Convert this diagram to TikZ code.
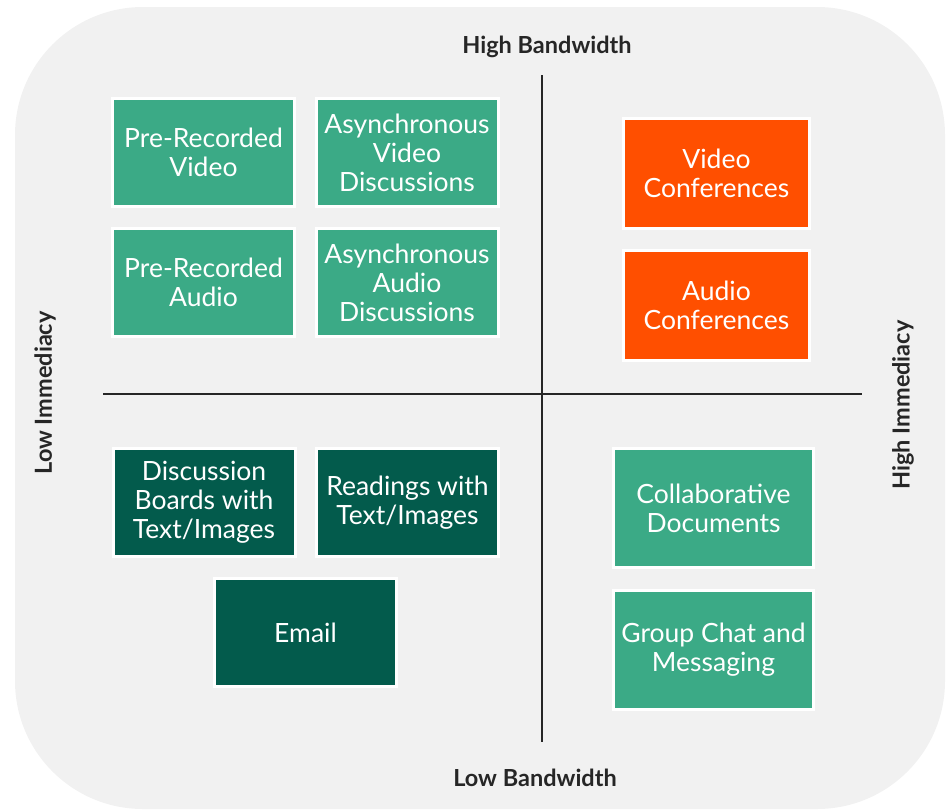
\documentclass[tikz,border=0pt]{standalone}
\usepackage{fontspec}
\setmainfont{Lato}
\definecolor{panel}{HTML}{F1F1F1}
\definecolor{midgreen}{HTML}{3BAA86}
\definecolor{darkgreen}{HTML}{035B4C}
\definecolor{hotorange}{HTML}{FF4F00}
\definecolor{axisink}{HTML}{262626}
\tikzset{
  card/.style={draw=white, line width=3pt, text=white, align=center,
    font=\fontsize{26.5}{29}\selectfont, inner sep=0pt},
  async/.style={card, fill=midgreen, minimum width=182pt, minimum height=108pt},
  live/.style={card, fill=hotorange, minimum width=186pt, minimum height=110pt},
  textual/.style={card, fill=darkgreen, minimum width=182pt, minimum height=108pt},
  shared/.style={card, fill=midgreen, minimum width=200pt, minimum height=119pt},
  axislabel/.style={text=axisink, font=\bfseries\fontsize{23.5}{28}\selectfont, inner sep=0pt},
  axisline/.style={draw=axisink, line width=2pt}
}
\begin{document}
\begin{tikzpicture}[x=1pt, y=-1pt]
  \useasboundingbox (0,0) rectangle (948,809);
  % rounded backdrop
  \fill[panel, rounded corners=128pt] (15,7) rectangle (945,809);

  % quadrant axes
  \coordinate (ytop) at (542,75);
  \coordinate (ybot) at (542,742);
  \coordinate (xleft) at (103,394);
  \coordinate (xright) at (862,394);
  \draw[axisline] (ytop) -- (ybot);
  \draw[axisline] (xleft) -- (xright);

  % axis labels
  \node[axislabel] (hb) at (547,47) {High Bandwidth};
  \node[axislabel] (lb) at (535,778) {Low Bandwidth};
  \node[axislabel, rotate=90] (li) at (45,393) {Low Immediacy};
  \node[axislabel, rotate=90] (hi) at (903,405) {High Immediacy};

  % high bandwidth, low immediacy
  \node[async] (prv) at (203.5,152.5) {Pre-Recorded\\Video};
  \node[async] (avd) at (407,152.5) {Asynchronous\\Video\\Discussions};
  \node[async] (pra) at (203.5,282.5) {Pre-Recorded\\Audio};
  \node[async] (aad) at (407,282.5) {Asynchronous\\Audio\\Discussions};

  % high bandwidth, high immediacy
  \node[live] (vc) at (716.5,173.5) {Video\\Conferences};
  \node[live] (ac) at (716.5,305.5) {Audio\\Conferences};

  % low bandwidth, low immediacy
  \node[textual] (db) at (204,502.5) {Discussion\\Boards with\\Text/Images};
  \node[textual] (rd) at (407.5,502.5) {Readings with\\Text/Images};
  \node[textual] (em) at (305.5,632.5) {Email};

  % low bandwidth, high immediacy
  \node[shared] (cd) at (713.5,508) {Collaborative\\Documents};
  \node[shared] (gc) at (713.5,650) {Group Chat and\\Messaging};
\end{tikzpicture}
\end{document}
